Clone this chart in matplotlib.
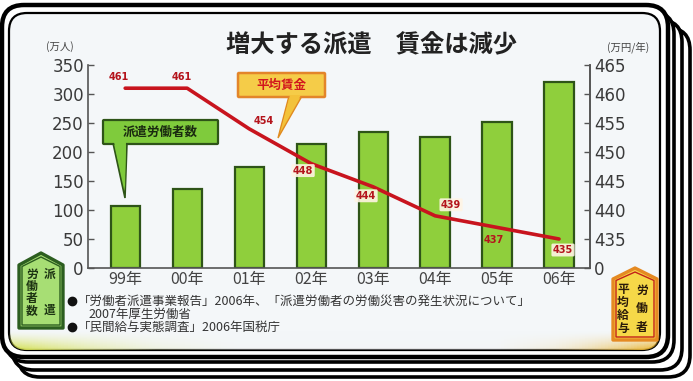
import numpy as np
import matplotlib
matplotlib.use("Agg")
import matplotlib.pyplot as plt
from matplotlib.patches import FancyBboxPatch, Polygon

plt.rcParams['font.family'] = ['Noto Sans CJK JP', 'DejaVu Sans']

# ---------------- data ----------------
years = ["99年", "00年", "01年", "02年", "03年", "04年", "05年", "06年"]
workers = [107, 137, 175, 213, 235, 226, 252, 320]          # 派遣労働者数 (万人)
wages = [461, 461, 454, 448, 444, 439, 437, 435]            # 平均賃金 (万円/年)
left_ticks = [0, 50, 100, 150, 200, 250, 300, 350]
right_ticks = [430, 435, 440, 445, 450, 455, 460, 465]
right_ticklabels = ["0", "435", "440", "445", "450", "455", "460", "465"]
title = "増大する派遣　賃金は減少"
left_unit = "(万人)"
right_unit = "(万円/年)"
bar_callout = "派遣労働者数"
line_callout = "平均賃金"
sources = ["「労働者派遣事業報告」2006年、「派遣労働者の労働災害の発生状況について」",
           "2007年厚生労働省",
           "「民間給与実態調査」2006年国税庁"]
left_badge = ["派遣", "労働者数"]
right_badge = ["労働者", "平均給与"]

W, H = 693, 381
fig = plt.figure(figsize=(W / 100, H / 100), dpi=100)
fig.patch.set_facecolor("white")

# ---------- background / frame (pixel coordinates) ----------
bg = fig.add_axes([0, 0, 1, 1], zorder=0)
bg.set_xlim(0, W)
bg.set_ylim(H, 0)
bg.axis("off")


def rrect(ax, x0, y0, x1, y1, r, **kw):
    p = FancyBboxPatch((x0, y0), x1 - x0, y1 - y0,
                       boxstyle=f"round,pad=0,rounding_size={r}", **kw)
    ax.add_patch(p)
    return p

rrect(bg, 18, 28, 690, 377, 22, facecolor="white", edgecolor="black", lw=2.6)
rrect(bg, 12, 20, 682, 370, 22, facecolor="white", edgecolor="black", lw=2.6)
rrect(bg, 6, 12, 674, 362, 22, facecolor="white", edgecolor="black", lw=2.6)
rrect(bg, 2, 5, 668, 357, 22, facecolor="white", edgecolor="black", lw=3.2)
panel = rrect(bg, 9, 13, 660, 350, 18, facecolor="#f4f7f9", edgecolor="black", lw=1.6)

# bottom tint of the panel
grad = np.zeros((20, 200, 4))
xs = np.linspace(0, 1, 200)
ys = np.linspace(0, 1, 20)[:, None]
left_col = np.array([0.83, 0.88, 0.30])
right_col = np.array([0.92, 0.70, 0.15])
wl = np.clip(1 - xs / 0.35, 0, 1)
wr = np.clip((xs - 0.75) / 0.25, 0, 1)
for c in range(3):
    grad[:, :, c] = (left_col[c] * wl + right_col[c] * wr + (1 - wl - wr) * 0.95)[None, :]
grad[:, :, 3] = (ys ** 1.5) * np.maximum(np.maximum(wl, wr), 0.35)[None, :]
im = bg.imshow(grad, extent=(9, 660, 350, 330), aspect="auto", zorder=1)
im.set_clip_path(panel)

# ---------------- main axes ----------------
ax = fig.add_axes([88 / W, (H - 268) / H, (590 - 88) / W, (268 - 65) / H], zorder=2)
ax.patch.set_alpha(0)
x = np.arange(len(years))
ax.bar(x, workers, width=0.47, color="#8fcf3c", edgecolor="#2e5418", linewidth=1.6, zorder=2)
ax.set_xlim(-0.6, 7.5)
ax.set_ylim(0, 350)
ax.set_yticks(left_ticks)
ax.set_yticklabels([str(t) for t in left_ticks], fontsize=12, color="#3a3a3a",
                   family=["DejaVu Sans"])
ax.set_xticks(x)
ax.set_xticklabels(years, fontsize=11.5, color="#444444")
ax.tick_params(axis="x", length=0, pad=2)
ax.tick_params(axis="y", direction="in", length=4, width=1, color="#555555", pad=3)
for s in ["top"]:
    ax.spines[s].set_visible(False)
for s in ["left", "bottom", "right"]:
    ax.spines[s].set_color("#555555")
    ax.spines[s].set_linewidth(1.2)

ax2 = ax.twinx()
ax2.set_ylim(430, 465)
ax2.set_yticks(right_ticks)
ax2.set_yticklabels(right_ticklabels, fontsize=12, color="#3a3a3a", family=["DejaVu Sans"])
ax2.tick_params(axis="y", direction="in", length=4, width=1, color="#555555", pad=3)
for s in ["top", "left", "bottom"]:
    ax2.spines[s].set_visible(False)
ax2.spines["right"].set_color("#555555")
ax2.spines["right"].set_linewidth(1.2)
ax2.plot(x, wages, color="#c8141e", lw=2.6, zorder=3, solid_capstyle="round")

label_offsets = [(-6, 11), (-5, 11), (15, 8), (-8, -7), (-7, -9), (16, 11), (-3, -13), (4, -11)]
label_box = [False, False, False, True, True, True, False, True]
for xi, w, off, bx in zip(x, wages, label_offsets, label_box):
    kw = {}
    if bx:
        kw["bbox"] = dict(boxstyle="round,pad=0.15", fc="#fff4e4", ec="none", alpha=0.9)
    ax2.annotate(str(w), (xi, w), xytext=off, textcoords="offset pixels",
                 ha="center", va="center", fontsize=7, fontweight="bold",
                 color="#b4141c", family=["DejaVu Sans"], zorder=4, **kw)

# ---------------- overlay (pixel coordinates) ----------------
fg = fig.add_axes([0, 0, 1, 1], zorder=5)
fg.set_xlim(0, W)
fg.set_ylim(H, 0)
fg.axis("off")
fg.patch.set_alpha(0)

fg.text(372, 45, title, ha="center", va="center", fontsize=17.5, color="#222222",
        fontweight="bold")
fg.text(60, 47, left_unit, ha="center", va="center", fontsize=7.5, color="#444444")
fg.text(628, 47, right_unit, ha="center", va="center", fontsize=7.5, color="#444444")

# bar callout
fg.add_patch(Polygon([(113, 143), (127, 143), (125, 198)], closed=True,
                     fc="#7fcb3c", ec="#2e5418", lw=1.2, zorder=2))
rrect(fg, 103, 120, 218, 144, 1, facecolor="#7fcb3c", edgecolor="#2e5418", lw=1.6, zorder=3)
fg.add_patch(Polygon([(114, 142), (126, 142), (125, 190)], closed=True,
                     fc="#7fcb3c", ec="none", zorder=4))
fg.text(160, 132, bar_callout, ha="center", va="center", fontsize=9, fontweight="bold",
        color="#1a2a10", zorder=5)

# wage callout
fg.add_patch(Polygon([(289, 96), (302, 96), (278, 138)], closed=True,
                     fc="#f3c23a", ec="#e08a20", lw=1.0, zorder=2))
rrect(fg, 238, 73, 325, 97, 1, facecolor="#f5cc48", edgecolor="#e3852a", lw=1.8, zorder=3)
fg.add_patch(Polygon([(290, 95), (301, 95), (281, 130)], closed=True,
                     fc="#f3c23a", ec="none", zorder=4))
fg.text(281.5, 85, line_callout, ha="center", va="center", fontsize=9, fontweight="bold",
        color="#d2161e", zorder=5)

# sources
src_y = [301, 314, 327]
fg.plot([72], [src_y[0]], marker="o", ms=6, color="#111111")
fg.plot([72], [src_y[2]], marker="o", ms=6, color="#111111")
fg.text(78, src_y[0], sources[0], ha="left", va="center", fontsize=9, color="#333333")
fg.text(88, src_y[1], sources[1], ha="left", va="center", fontsize=9, color="#333333")
fg.text(78, src_y[2], sources[2], ha="left", va="center", fontsize=9, color="#333333")


def badge(x0, x1, ytop, yshoulder, ybot, fc, ec, ec2, cols, colx, ystart, ystep, tcolor):
    xm = (x0 + x1) / 2
    pts = [(x0, ybot), (x0, yshoulder), (xm, ytop), (x1, yshoulder), (x1, ybot)]
    fg.add_patch(Polygon(pts, closed=True, fc=fc, ec=ec, lw=2.4, joinstyle="round"))
    d = 3
    pts2 = [(x0 + d, ybot - d), (x0 + d, yshoulder + 1.5), (xm, ytop + d + 1),
            (x1 - d, yshoulder + 1.5), (x1 - d, ybot - d)]
    fg.add_patch(Polygon(pts2, closed=True, fc="none", ec=ec2, lw=1.0, joinstyle="round"))
    for col, cx, ys0, st in zip(cols, colx, ystart, ystep):
        for i, ch in enumerate(col):
            fg.text(cx, ys0 + i * st, ch, ha="center", va="center", fontsize=8.5,
                    fontweight="bold", color=tcolor)

badge(19, 63, 253, 265, 328, "#a7de74", "#2c5e20", "#2c5e20",
      left_badge, [50, 32], [274, 274], [36, 12.3], "#1c3312")
badge(613, 657, 268, 279, 340, "#f6d848", "#e58a22", "#c4201a",
      right_badge, [642, 623], [290, 290], [18.5, 12.7], "#2a1a0a")

fig.savefig("out.png", dpi=100, facecolor="white")
